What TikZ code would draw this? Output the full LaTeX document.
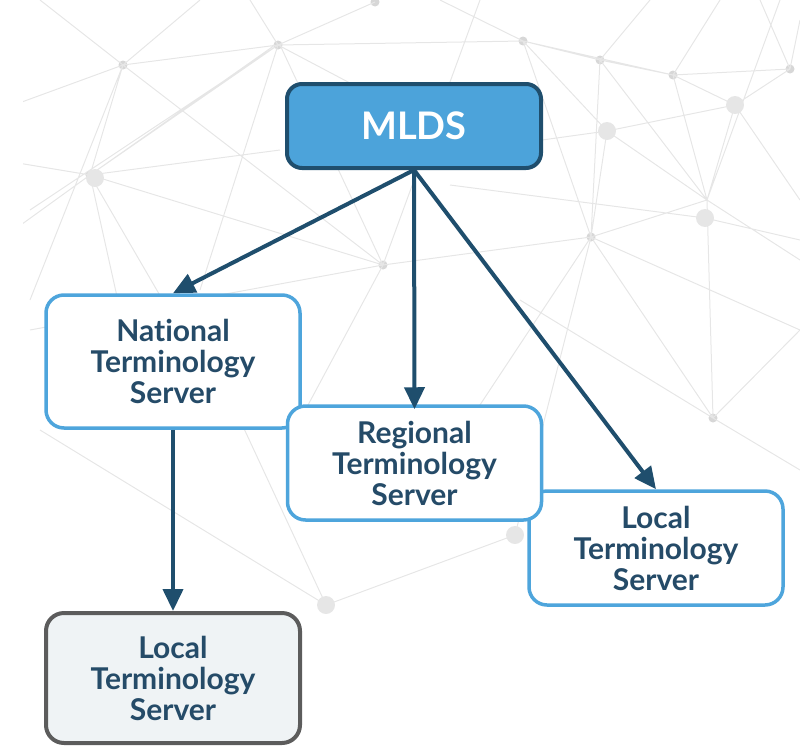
\documentclass[tikz,border=0pt]{standalone}
\usepackage{fontspec}
\setmainfont{Lato}[Ligatures={NoCommon,NoRare,NoDiscretionary}]
\usetikzlibrary{arrows.meta}
\definecolor{mldsblue}{HTML}{4CA3DA}
\definecolor{mldsdark}{HTML}{1F4E6D}
\definecolor{srvblue}{HTML}{4EA5DC}
\definecolor{srvtext}{HTML}{254B68}
\definecolor{srvgrey}{HTML}{5C5C5C}
\definecolor{srvfill}{HTML}{EFF3F5}
\definecolor{netgrey}{HTML}{E6E6E6}
\begin{document}
\begin{tikzpicture}[x=1pt,y=-1pt,
  srv/.style={draw=srvblue, line width=3.5pt, fill=white, rounded corners=18pt,
    minimum width=254pt, align=center, text=srvtext,
    font=\fontsize{30}{31}\selectfont\bfseries},
  link/.style={draw=mldsdark, line width=4pt, -{Triangle[length=22pt,width=20pt]}}]
\useasboundingbox (0,0) rectangle (800,747);

% background net
\begin{scope}
\clip (23,0) rectangle (800,640);
\foreach \a/\b in {123/65, 90/175, 278/45, 383/265, 523/41, 600/60, 673/75, 790/69,
  591/237, 713/418, 375/2}
  \fill[netgrey!85!gray] (\a,\b) circle (4.5pt);
\foreach \a/\b in {735/105, 607/131, 705/218, 326/605, 515/535, 95/178}
  \fill[netgrey] (\a,\b) circle (9pt);
\draw[netgrey, line width=1pt]
  (123,65) -- (278,45) (123,65) -- (90,175) (123,65) -- (40,0) (123,65) -- (0,110)
  (123,65) -- (383,265) (123,65) -- (200,0) (123,65) -- (30,300)
  (90,175) -- (278,45) (90,175) -- (0,160) (90,175) -- (180,330) (90,175) -- (0,240)
  (90,175) -- (275,45) (90,175) -- (383,265) (90,175) -- (140,400) (90,175) -- (280,150)
  (278,45) -- (375,2) (278,45) -- (523,41) (278,45) -- (250,0) (278,45) -- (200,290)
  (278,45) -- (30,210) (278,45) -- (420,120)
  (383,265) -- (591,237) (383,265) -- (480,0) (383,265) -- (280,45) (383,265) -- (300,420)
  (523,41) -- (600,60) (523,41) -- (673,75) (523,41) -- (440,0) (523,41) -- (591,237)
  (523,41) -- (607,131)
  (600,60) -- (673,75) (600,60) -- (707,200) (600,60) -- (591,237) (600,60) -- (650,0)
  (673,75) -- (790,69) (673,75) -- (707,200) (673,75) -- (735,105) (673,75) -- (720,0)
  (735,105) -- (790,69) (735,105) -- (707,200) (735,105) -- (800,200) (735,105) -- (607,131)
  (607,131) -- (591,237) (607,131) -- (470,150) (607,131) -- (707,200)
  (707,200) -- (591,237) (707,200) -- (800,260) (707,200) -- (713,418) (707,200) -- (780,0)
  (705,218) -- (450,185) (705,218) -- (800,240)
  (591,237) -- (713,418) (591,237) -- (470,420) (591,237) -- (800,330)
  (713,418) -- (800,330) (713,418) -- (800,470) (713,418) -- (520,300)
  (790,69) -- (800,20) (790,69) -- (760,0)
  (30,330) -- (383,265) (40,430) -- (326,605) (326,605) -- (515,535)
  (515,535) -- (591,237) (326,605) -- (240,420);
\end{scope}

\node (mlds) at (414,126) [draw=mldsdark, line width=4pt, fill=mldsblue, rounded corners=15pt,
  minimum width=254pt, minimum height=84pt, text=white,
  font=\fontsize{38}{40}\selectfont\bfseries] {MLDS};
\node (national) at (173,361.5) [srv, minimum height=133pt] {National\\Terminology\\Server};
\node (localr) at (656,548) [srv, minimum height=114pt] {Local\\Terminology\\Server};
\node (regional) at (414.5,463) [srv, minimum height=114pt] {Regional\\Terminology\\Server};
\node (localb) at (173,678) [srv, draw=srvgrey, line width=4pt, fill=srvfill,
  minimum height=130pt] {Local\\Terminology\\Server};

\draw[link] (mlds.south) to (national.north);
\draw[link] (mlds.south) to ([yshift=-5pt]regional.north);
\draw[link] (mlds.south) to (localr.north);
\draw[link] (national.south) to (localb.north);
\end{tikzpicture}
\end{document}
